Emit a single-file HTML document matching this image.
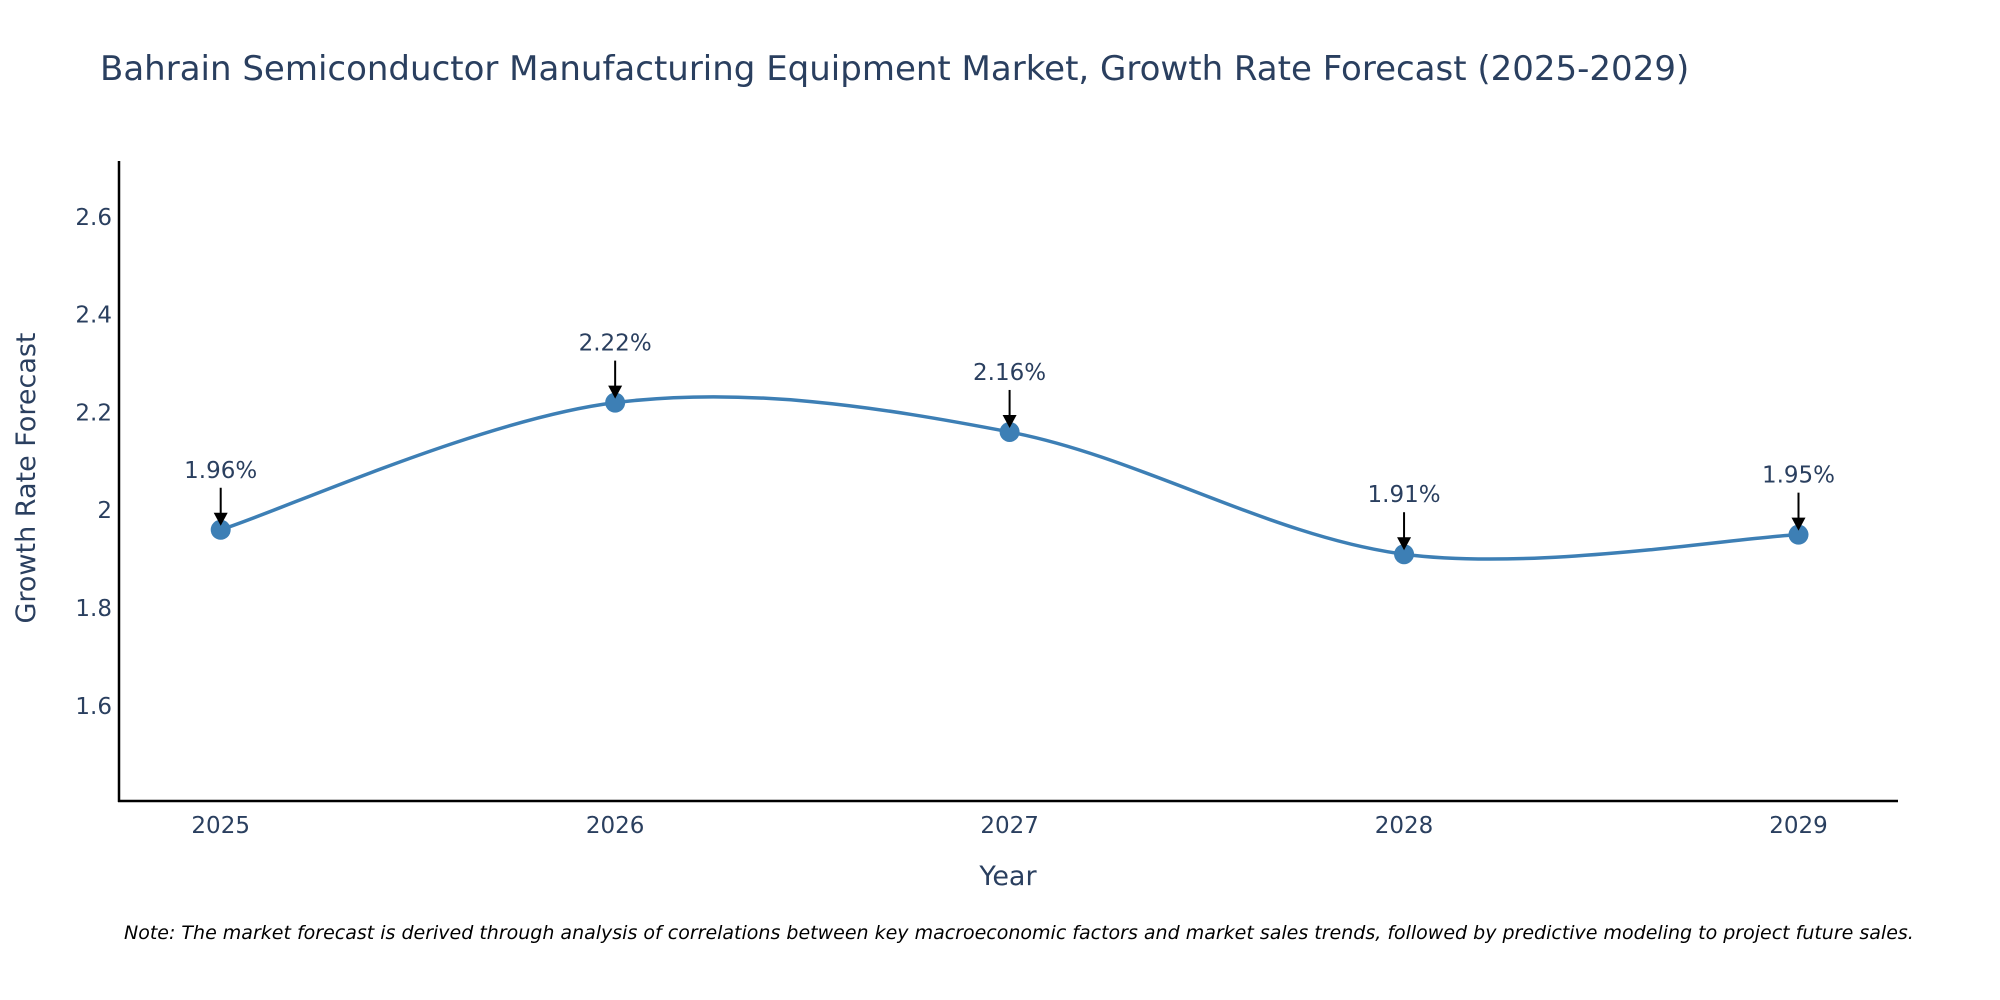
<!DOCTYPE html>
<html><head><meta charset="utf-8"><style>
html,body{margin:0;padding:0;background:#fff;}
svg{display:block;font-family:"DejaVu Sans","Liberation Sans",sans-serif;}
</style></head><body>
<svg id="chart" width="2000" height="1000" viewBox="0 0 2000 1000">
<text x="100" y="80" font-size="34" fill="#2a3f5f">Bahrain Semiconductor Manufacturing Equipment Market, Growth Rate Forecast (2025-2029)</text>
<g id="yticks"></g>
<g id="xticks"></g>
<line x1="119" y1="161" x2="119" y2="802" stroke="#000" stroke-width="2.5"/>
<line x1="118" y1="801" x2="1898" y2="801" stroke="#000" stroke-width="2.5"/>
<path id="line" fill="none" stroke="#3d7fb5" stroke-width="3.5"/>
<g id="points"></g>
<g id="annots"></g>
<text x="1008" y="885" font-size="27" fill="#2a3f5f" text-anchor="middle">Year</text>
<text transform="translate(35,478) rotate(-90)" font-size="27" fill="#2a3f5f" text-anchor="middle">Growth Rate Forecast</text>
<text x="124" y="939" font-size="19" font-style="italic" fill="#000">Note: The market forecast is derived through analysis of correlations between key macroeconomic factors and market sales trends, followed by predictive modeling to project future sales.</text>
</svg>
<script>
const years = [2025, 2026, 2027, 2028, 2029];
const values = [1.96, 2.22, 2.16, 1.91, 1.95];
const yTickValues = [1.6, 1.8, 2.0, 2.2, 2.4, 2.6];
const yTickLabels = ["1.6", "1.8", "2", "2.2", "2.4", "2.6"];

const NS = "http://www.w3.org/2000/svg";
function X(v){ return 220.7 + (v - 2025) * (1798.5 - 220.7) / 4; }
function Y(v){ return 510.2 - (v - 2.0) * 97.8 / 0.2; }
function mk(tag, attrs, parent){ const e = document.createElementNS(NS, tag); for (const k in attrs) e.setAttribute(k, attrs[k]); parent.appendChild(e); return e; }

const yt = document.getElementById('yticks');
yTickValues.forEach((v, i) => {
  const t = mk('text', {x: 112, y: Y(v) + 8, 'font-size': 23, fill: '#2a3f5f', 'text-anchor': 'end'}, yt);
  
  
  t.textContent = yTickLabels[i];
});
const xt = document.getElementById('xticks');
years.forEach(y => {
  const t = mk('text', {x: X(y), y: 833, 'font-size': 23, fill: '#2a3f5f', 'text-anchor': 'middle'}, xt);
  
  
  t.textContent = String(y);
});

const pts = years.map((y, i) => [X(y), Y(values[i])]);
let d = `M${pts[0][0]},${pts[0][1]}`;
const s = 0.5;
for (let i = 0; i < pts.length - 1; i++) {
  const p0 = pts[Math.max(0, i - 1)], p1 = pts[i], p2 = pts[i + 1], p3 = pts[Math.min(pts.length - 1, i + 2)];
  const c1 = [p1[0] + (p2[0] - p0[0]) * s / 3, p1[1] + (p2[1] - p0[1]) * s / 3];
  const c2 = [p2[0] - (p3[0] - p1[0]) * s / 3, p2[1] - (p3[1] - p1[1]) * s / 3];
  d += ` C${c1[0]},${c1[1]} ${c2[0]},${c2[1]} ${p2[0]},${p2[1]}`;
}
document.getElementById('line').setAttribute('d', d);

const pg = document.getElementById('points'), ag = document.getElementById('annots');
pts.forEach((p, i) => {
  const c = mk('circle', {cx: p[0], cy: p[1], r: 10, fill: '#3d7fb5'}, pg);
  
  
  const l = mk('line', {x1: p[0], y1: p[1] - 42, x2: p[0], y2: p[1] - 14, stroke: '#000', 'stroke-width': 2}, ag);
  
  
  const h = mk('polygon', {points: `${p[0]-7},${p[1]-17} ${p[0]+7},${p[1]-17} ${p[0]},${p[1]-4}`, fill: '#000'}, ag);
  
  
  const t = mk('text', {x: p[0], y: p[1] - 52, 'font-size': 23, fill: '#2a3f5f', 'text-anchor': 'middle'}, ag);
  
  
  t.textContent = values[i].toFixed(2) + '%';
});
</script>
</body></html>
